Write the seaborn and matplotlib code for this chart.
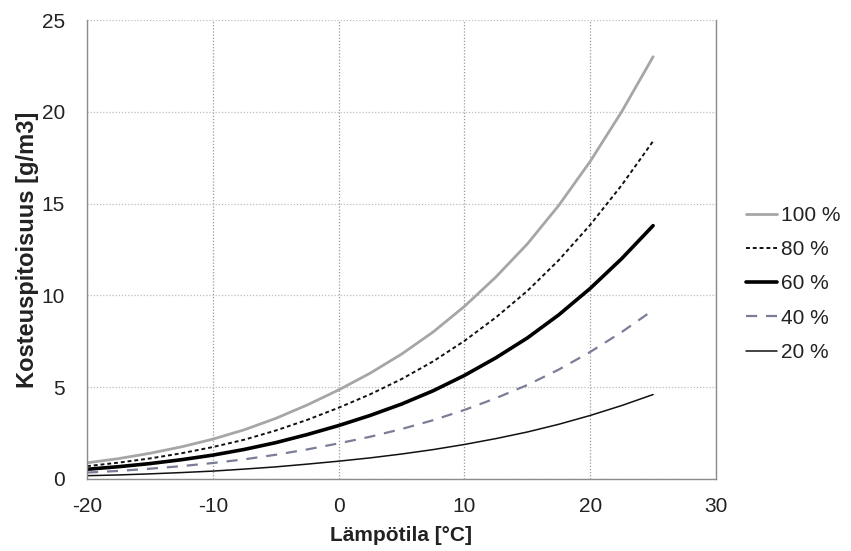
import matplotlib
matplotlib.use("Agg")
import matplotlib.pyplot as plt
import seaborn as sns
import pandas as pd

temps = [-20, -17.5, -15, -12.5, -10, -7.5, -5, -2.5, 0, 2.5, 5, 7.5, 10, 12.5, 15, 17.5, 20, 22.5, 25]
rh100 = [0.88, 1.11, 1.40, 1.75, 2.17, 2.68, 3.30, 4.03, 4.85, 5.76, 6.80, 8.00, 9.40, 11.0, 12.8, 14.9, 17.3, 20.0, 23.0]
rh80 = [0.70, 0.89, 1.12, 1.40, 1.74, 2.14, 2.64, 3.22, 3.88, 4.61, 5.44, 6.40, 7.52, 8.80, 10.24, 11.92, 13.84, 16.0, 18.4]
rh60 = [0.53, 0.67, 0.84, 1.05, 1.30, 1.61, 1.98, 2.42, 2.91, 3.46, 4.08, 4.80, 5.64, 6.60, 7.68, 8.94, 10.38, 12.0, 13.8]
rh40 = [0.35, 0.44, 0.56, 0.70, 0.87, 1.07, 1.32, 1.61, 1.94, 2.30, 2.72, 3.20, 3.76, 4.40, 5.12, 5.96, 6.92, 8.0, 9.2]
rh20 = [0.18, 0.22, 0.28, 0.35, 0.43, 0.54, 0.66, 0.81, 0.97, 1.15, 1.36, 1.60, 1.88, 2.20, 2.56, 2.98, 3.46, 4.0, 4.6]
labels = ["100 %", "80 %", "60 %", "40 %", "20 %"]

sns.set_theme(style="white")
plt.rcParams['font.family'] = ['Liberation Sans', 'DejaVu Sans']
plt.rcParams['axes.unicode_minus'] = False

df = pd.DataFrame({"T": temps * 5,
                   "v": rh100 + rh80 + rh60 + rh40 + rh20,
                   "s": [l for l in labels for _ in temps]})

fig = plt.figure(figsize=(8.51, 5.51), dpi=100)
ax = fig.add_axes([87/851, 1 - 479/551, (716-87)/851, (479-20)/551])

styles = {
    "100 %": dict(color="#a6a6a6", lw=2.0, ls="-"),
    "80 %": dict(color="#111111", lw=1.4, ls=(0, (2, 1.5))),
    "60 %": dict(color="#000000", lw=2.6, ls="-"),
    "40 %": dict(color="#7a7d96", lw=1.6, ls=(0, (5, 4))),
    "20 %": dict(color="#111111", lw=1.1, ls="-"),
}
for lab in labels:
    sub = df[df.s == lab]
    sns.lineplot(data=sub, x="T", y="v", ax=ax, label=lab, **styles[lab])

ax.set_xlim(-20, 30)
ax.set_ylim(0, 25)
ax.set_xticks([-20, -10, 0, 10, 20, 30])
ax.set_yticks([0, 5, 10, 15, 20, 25])
ax.grid(True, which="major", axis="x", color="#9a9a9a", ls=(0, (1, 1.5)), lw=0.9)
ax.grid(True, which="major", axis="y", color="#bdbdbd", ls=(0, (1, 1.5)), lw=0.9)
for side in ["left", "bottom", "right"]:
    ax.spines[side].set_color("#8c8c8c")
    ax.spines[side].set_linewidth(1.0)
ax.spines["top"].set_visible(False)
ax.tick_params(axis="x", labelsize=15, colors="#222222", length=0, pad=13)
ax.tick_params(axis="y", labelsize=15, colors="#222222", length=0, pad=16)
ax.set_xlabel("Lämpötila [°C]", fontsize=15, fontweight="bold", color="#222222", labelpad=7)
ax.set_ylabel("Kosteuspitoisuus [g/m3]", fontsize=17, fontweight="bold", color="#222222", labelpad=2)

leg = ax.legend(loc="center left", bbox_to_anchor=(1.035, 0.425), frameon=False,
                fontsize=15, handlelength=1.45, handletextpad=0.2, labelspacing=0.73,
                borderaxespad=0)
for t in leg.get_texts():
    t.set_color("#222222")

fig.savefig("out.png", dpi=100)
